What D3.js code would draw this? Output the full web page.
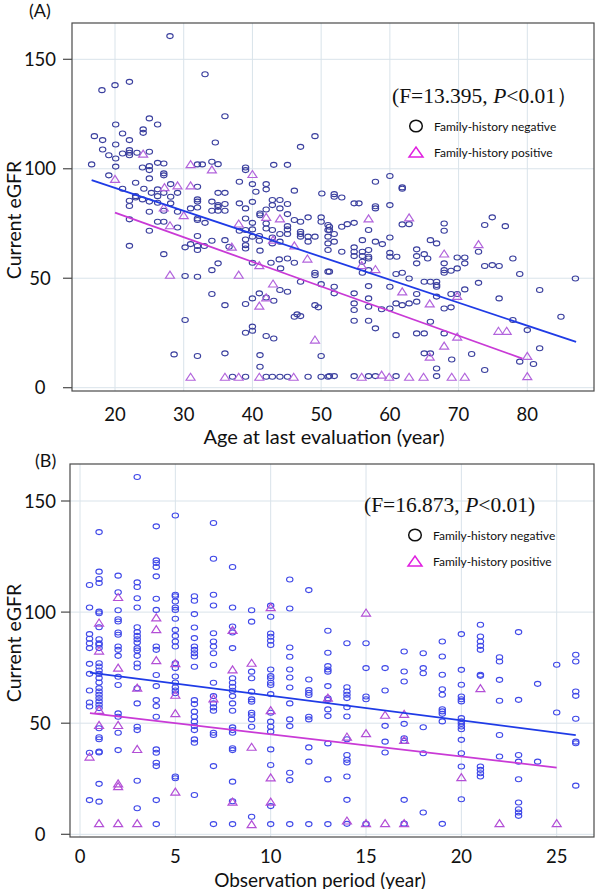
<!DOCTYPE html>
<html><head><meta charset="utf-8">
<script src="https://cdn.jsdelivr.net/npm/d3@7"></script>
<style>body{margin:0;background:#fff}svg{display:block}</style>
</head><body>
<svg id="c" width="596" height="889"></svg>
<script>
// ---------- DATA: panel A (age at last evaluation vs current eGFR) ----------
const ageTicks = [20, 30, 40, 50, 60, 70, 80];
const egfrTicks = [0, 50, 100, 150];
const ageNeg = [
[28,160.6],[33.1,143.2],[18.1,135.9],[20,138.2],[22.1,139.7],
[36,124],[25,123],[26.2,120.2],[20.1,120.2],[21.1,116.1],[24.1,118],[24.1,116.4],[17,114.9],[18.2,113.1],[22.1,113.1],[20.1,111.1],[34.6,112],[49.1,114.9],[47,110],[18.2,108.8],[19.1,106.2],[20.1,104.7],[21.1,107],[22.1,108.5],[22.1,107.3],[22.1,106.2],[23.2,107.3],[25,107.8],[16.6,102],[20.1,101],[24,100.6],[25,101.2],[26.2,102.7],[27.1,102.4],[32,102],[32.7,102],[34.1,103.2],[35,102.1],[39,100.6],[39,99.4],[43.1,101.8],[45.1,101.8],[25,99.4],[27.1,97.9],[27.1,97],[19.1,97],[25,95.6],[21.1,90.9],[23,93.6],[24.2,90.9],[26.2,90.6],[28.1,93],[32,91.8],[38.1,94.1],[40,93],[42,93],[42,90.6],[40.5,89.5],[46.1,90],[25.3,89],[27.1,89],[29.1,89],[23,87.5],[23,86.9],[22.1,85.4],[22.1,83],[24,86],[25,85],[26.2,87.5],[26.2,84.5],[28.1,87.2],[28.1,84.2],[32,86],[32,85],[34.1,85],[35,89],[36,89],[35,83.4],[35,82.6],[36,83.9],[38.1,84.2],[39,81.9],[40,84.9],[41.1,79.6],[41.1,78.8],[42,81.4],[42.9,85.7],[42.9,83.4],[44,85.7],[44,81.9],[45.1,83.9],[45.1,79.3],[25,80.4],[26.2,75.8],[27.1,80.8],[27.1,75.8],[29.1,80.4],[31,81.9],[32,82.3],[34.1,80.8],[35,80.8],[36,80.8],[22.1,76.9],[25,71.7],[29.1,73.2],[32,77.3],[32,76.6],[33.1,75.3],[39,77.3],[39,72],[40,75.3],[40,72.3],[42,75],[42,72.7],[42.9,72],[45.1,73.8],[45.1,72.3],[45.1,70.2],[46.1,76.6],[47,75.8],[47,71.2],[47,70.2],[48.1,77.8],[48.1,69],[48.1,66.7],[49.1,69],[50,77.8],[50,75.8],[50.1,88.7],[51,74.3],[51,72],[51,69],[51,65.9],[51,62.9],[47,69],[44,70.2],[44,66.7],[42.9,68.6],[42.9,65.9],[41,69.3],[41,67.1],[40,69],[39,67.7],[39,65.1],[39,63.6],[38.1,71.7],[36,67.4],[36.6,64.4],[34.1,67.1],[32,69.3],[32,64.7],[32,62.9],[33,64.7],[31,65.6],[30.2,64.1],[22.1,64.8],[27.1,61],[35,56.8],[34.1,53.7],[40,57.1],[41.1,62.6],[42.7,57.1],[43.9,58.6],[45.1,59],[46.1,57.1],[44.1,54.5],[49.1,52.5],[49.1,51.4],[51,53],[47,48.4],[50,47.3],[30.2,51],[32,50.7],[34.1,42.8],[36,37.7],[39,38.2],[40,40.8],[41,43.1],[42,41.2],[43.1,39.7],[44,44.6],[45.1,43.8],[49.1,37.7],[49.6,36.7],[46.1,32.4],[47,32.7],[46.5,33.5],[40,27.9],[40,26],[39,25.1],[42,23.6],[43.1,22.5],[30.2,30.9],[28.6,15.2],[32,14.5],[36,15.7],[41.1,14.9],[41.1,9.6],[50,14.5],
[37.1,5],[39,5],[42,5],[42.9,5],[44,5],[45.1,5],[48.1,5],[50,5],[51,5],
[57.9,94.1],[60,96.7],[61.8,91.5],[61.8,90.9],[51.9,88.4],[51.9,87.2],[53,86.9],[54.8,84.2],[55.5,84.2],[57.9,82.9],[57.9,81.9],[60,83.4],[51.2,73.5],[51.2,72],[53,73.5],[53.8,74.7],[54.8,75.3],[56.9,72],[51.9,70.2],[51.9,66.7],[56,67.4],[57.9,66.7],[58.9,65.6],[60,68.6],[61.8,74.6],[62.8,74.7],[65.9,67.4],[66.8,65.9],[67.9,75],[67.9,71.7],[73.8,74.3],[74.9,77.8],[76.8,73.8],[72.9,62.1],[53,62.1],[54.8,64.1],[54.8,62.1],[54.8,60.1],[56,62.1],[56,60.1],[56.9,62.9],[56.9,59.8],[56,57.5],[56.9,59],[56,52.5],[56.9,53.7],[60,61.6],[60,59.8],[61,59.8],[63.9,63.2],[63.9,60.1],[63.9,56.8],[65,61],[65.5,59],[67.9,56.8],[67.9,53.7],[67.9,52.5],[68.9,53.4],[69.8,54.5],[69.8,59.5],[70.9,59.5],[70.9,56.8],[73.8,55.6],[74.9,56],[75.9,55.6],[77.9,59],[78.9,51.9],[51.2,53],[51.9,46.1],[51.9,43.1],[54.8,43.1],[54.8,38.5],[54.8,35.5],[56.9,46.4],[56.9,40.8],[56.9,37],[58.8,35.8],[60,46.1],[60,36.2],[60.9,51.9],[61.8,52.5],[62.8,49.9],[60.9,38.5],[61.8,37.7],[62.8,38.5],[63.9,39.3],[63.9,42.8],[65,48.4],[65.9,48.4],[66.8,48.4],[66.8,46.1],[66.8,46.9],[66.8,41.6],[67.9,36.2],[68.9,36.7],[68.9,42.8],[69.8,42.8],[70.9,44.9],[72.9,47.9],[75.9,40.8],[81.8,44.6],[87,49.9],[84.9,32.4],[77.9,30.9],[80,26.3],[54.8,30.6],[56.9,30.6],[57.9,27.1],[60.9,24],[63.9,24.8],[65,24.8],[65.9,30.1],[67.9,24.8],[65,15.7],[65.9,15.7],[69,12.9],[71.9,15.4],[66.8,8.8],[73.8,8.1],[78.9,11.9],[80.9,10.8],[81.8,18],
[51.2,5.3],[51.9,5.3],[54.8,5.3],[56.9,5.3],[57.9,5.3],[60.9,5.3],[66.8,5.3]
];
const agePos = [
[24.1,106.9],[20,95.4],[31,102.1],[34.1,99.7],[40,97.6],[27.2,91.6],[29.1,92.4],[31,92.4],[27.1,82.3],[30,78.8],[28,74.2],[38,75],[42,78],[44,77.3],[37,64.4],[43,67.6],[46.1,65],[48,59],[41,56],[28,51.6],[38,51.6],[43,47.6],[42,41.3],[41,37.5],[49.1,22],[31,5],[36,5],[38,5],[41,5],[46,5],
[56.9,77.3],[62.8,77.8],[72.9,65.6],[67.9,61.3],[55.9,56],[57.9,54.2],[61.8,44],[65.8,38.5],[69.8,41.9],[69.8,23.3],[75.8,26],[77,26],[67.9,19.2],[65.8,14.2],[80,14.5],[80,5.3],[55.9,5],[58.8,6],[59.9,5],[62.8,5],[64.9,5],[69,5],[70.9,5]
];
const ageFitNeg = [[16.6,94.8],[87.1,20.9]];
const ageFitPos = [[20,80],[79.3,13.3]];

// ---------- DATA: panel B (observation period vs current eGFR) ----------
const obsTicks = [0, 5, 10, 15, 20, 25];
const obsNegByYear = [
[0.5,[112.2,102.1,90.1,88,86,83.8,76.7,72.2,64.7,59.3,57.5,36.7,15.4]],
[1,[136,118.2,114.9,113.1,100.2,99.5,93.2,87.8,86,85.3,83.8,77,75.5,73.7,72.2,70.3,68.3,65.8,64.3,62.8,61.3,59.8,58.3,56.8,47.7,43.7,42.8,37.2,36.8,22.7,14.7]],
[2,[116.4,108.9,100.8,96.8,95.8,90.8,89.8,84.5,83,80.3,70.9,67.2,54.4,52.9,45.7,37.9]],
[3,[160.8,113.4,111.3,106.2,102.1,93.2,91,89.3,87.8,86.3,83.8,82.7,80.3,76.9,75.1,65.7,58.9,48.4,46.9,24.1,11.7]],
[4,[138.6,123.3,122.1,120.3,116.1,106,101,84.5,83,71.7,66.7,60.4,57.7,52.9,38.2,36.7,32.2,30.7,15.4,4.6]],
[5,[143.5,107.8,107.1,104.8,102.1,101,97,92,89.3,86.8,84.5,77,74.8,71,68.3,66.2,64.7,63.5,26,25.2]],
[6,[107.1,105.1,99.1,93.1,88.3,84.5,83,81.5,80,75.4,60.4,58.6,55.2,52.9,50.7,48.7,46.9,42.7,41.2,17.7]],
[7,[140.1,124,107.8,103,90.5,86.8,84.5,81.5,76.2,68.2,62.2,58.9,57.1,55.6,45.7,44.7,30.7,4.6]],
[8,[120.3,102.1,93.5,90.8,83.8,70.2,68.2,66.4,64.6,62.2,58.9,55.6,48.1,46.9,45.7,38.7,37.9,23.7,14.9,4.6]],
[9,[100.8,95.7,73.2,70.2,64.2,60.7,59.7,54.7,53.7,51.7,48.4,7.9]],
[10,[102.9,97.9,90.4,88.9,87.1,85.2,74.2,71.2,70.2,68.2,67.2,63.1,54.7,50.7,48.4,46.2,38.2,31.2,12.7,4.6]],
[11,[114.7,101.6,84.1,79.9,74.2,70.6,66.1,58.9,51.7,48.7,27.7,24.4,4.6]],
[12,[109.9,69.7,64.9,63.7,62.7,52.9,51.7,39.1,32.7,4.6]],
[13,[91.6,81.7,75.7,74.2,73.2,66.7,61.2,60.5,56.2,53.2,40.9,24.7,4.6]],
[14,[86,66.2,64.3,62.8,61.3,57.2,53,42.8,35.7,33.5,32.3,26,15.5,4.7]],
[15,[86,74.8,62,60.8,4.7]],
[16,[74.8,64.7,48.8,41.7,36.8]],
[17,[82.3,73.3,68.8,49.7,43.2,42,15.5,4.8]],
[18,[81.5,74.8,72.5,48.2,36.5,9.8]],
[19,[86.8,80,71.8,65.3,62.8,56.3,55.3,54.2,50.8,4.7]],
[20,[90.1,74,67.3,62,60.8,59.8,52.3,50.8,49.7,48.5,47.3,42.5,36.5,30.5,15.8]],
[21,[94.3,89,86.8,84.8,83,71.8,71.3,30.5,29,27.5,26]],
[22,[79.7,77.8,69.5,60.1,44.7,35]],
[23,[91,60.5,35.7,32.7,24.8,14.3,11.3,9.8,8.3]],
[24,[67.7,32.7]],
[25,[76.3,54.8]],
[26,[80.8,77.8,64.3,62.3,52,41.7,41,21.9]]
];
const obsPosByYear = [
[0.5,[35]],
[1,[95.3,82.7,56,49.2,5]],
[2,[106.8,75,49.2,22.9,21.7,5]],
[3,[66,38.4,5]],
[4,[97.6,92.3,78.4]],
[5,[77,62.8,54.5,19.2]],
[7,[61.2]],
[8,[92,74.2,14.7]],
[9,[77.2,39.4,4.6]],
[10,[102.2,55.9,25.6,14.7]],
[13,[61.5]],
[14,[44,6.2]],
[15,[99.8,45.5,5]],
[16,[53.8,5]],
[17,[54.2,42.5,5]],
[20,[25.7]],
[21,[65.8]],
[22,[5]],
[25,[5]]
];
const obsFitNeg = [[0.52,72.8],[26,44.6]];
const obsFitPos = [[0.52,54.5],[25,30]];

const legendLabels = ["Family-history negative", "Family-history positive"];

// ---------- DRAW ----------
const svg = d3.select("#c");
const flat = g => g.flatMap(([t, vs]) => vs.map(v => [t, v]));
const sans = "Lato, 'Open Sans', sans-serif";

function panel(cfg) {
  const g = svg.append("g");
  const x = d3.scaleLinear().domain(cfg.xd).range(cfg.xr);
  const y = d3.scaleLinear().domain([0, 150]).range(cfg.yr);
  const f = cfg.frame;
  // grid
  g.selectAll(".gx").data(cfg.xticks).join("line")
    .attr("x1", d => x(d)).attr("x2", d => x(d)).attr("y1", f.t).attr("y2", f.b)
    .attr("stroke", "#d9e3ea").attr("stroke-width", 1);
  g.selectAll(".gy").data(egfrTicks).join("line")
    .attr("x1", f.l).attr("x2", f.r).attr("y1", d => y(d)).attr("y2", d => y(d))
    .attr("stroke", "#d9e3ea").attr("stroke-width", 1);
  // frame
  g.append("rect").attr("x", f.l).attr("y", f.t).attr("width", f.r - f.l).attr("height", f.b - f.t)
    .attr("fill", "none").attr("stroke", "#4a4a4a").attr("stroke-width", 1.2);
  // y ticks
  g.selectAll(".ty").data(egfrTicks).join("line")
    .attr("x1", f.l - 9).attr("x2", f.l).attr("y1", d => y(d)).attr("y2", d => y(d))
    .attr("stroke", "#4a4a4a").attr("stroke-width", 1.2);
  g.selectAll(".ly").data(egfrTicks).join("text")
    .attr("x", cfg.ylabX).attr("y", d => y(d) + 6.5).attr("text-anchor", "middle")
    .attr("font-family", sans).attr("font-size", 18.5).attr("fill", "#111").text(d => d);
  g.selectAll(".lx").data(cfg.xticks).join("text")
    .attr("x", d => x(d)).attr("y", cfg.xlabY).attr("text-anchor", "middle")
    .attr("font-family", sans).attr("font-size", 18.5).attr("fill", "#111").text(d => d);
  // axis titles
  g.append("text").attr("x", cfg.xtitle[0]).attr("y", cfg.xtitle[1]).attr("text-anchor", "middle")
    .attr("font-family", sans).attr("font-size", cfg.xtitle[2]).attr("fill", "#111").text(cfg.xtitleText);
  g.append("text").attr("transform", `translate(${cfg.ytitle[0]},${cfg.ytitle[1]}) rotate(-90)`)
    .attr("text-anchor", "middle").attr("font-family", sans).attr("font-size", 19.5).attr("fill", "#111")
    .text("Current eGFR");
  g.append("text").attr("x", cfg.tag[0]).attr("y", cfg.tag[1]).attr("font-family", sans)
    .attr("font-size", 18).attr("fill", "#111").text(cfg.tagText);
  // markers
  g.selectAll(".neg").data(cfg.neg).join("ellipse")
    .attr("cx", d => x(d[0])).attr("cy", d => y(d[1])).attr("rx", 3.2).attr("ry", 2.5)
    .attr("fill", "none").attr("stroke", cfg.negColor).attr("stroke-width", 1.1);
  const tri = (cx, cy, w, h) => `M${cx - w / 2},${cy + h / 2}L${cx + w / 2},${cy + h / 2}L${cx},${cy - h / 2}Z`;
  g.selectAll(".pos").data(cfg.pos).join("path")
    .attr("d", d => tri(x(d[0]), y(d[1]), 9, 7))
    .attr("fill", "none").attr("stroke", cfg.posColor).attr("stroke-width", 1.2);
  // fits
  const line = d3.line().x(d => x(d[0])).y(d => y(d[1]));
  g.append("path").attr("d", line(cfg.fitNeg)).attr("stroke", "#1f3be6").attr("stroke-width", 1.8).attr("fill", "none");
  g.append("path").attr("d", line(cfg.fitPos)).attr("stroke", "#c93ad6").attr("stroke-width", 1.8).attr("fill", "none");
  // annotation
  const a = g.append("text").attr("x", cfg.ann[0]).attr("y", cfg.ann[1])
    .attr("font-family", "'Liberation Serif', 'Times New Roman', serif").attr("font-size", 21.5).attr("fill", "#111");
  a.append("tspan").text(cfg.annText[0]);
  a.append("tspan").attr("font-style", "italic").text("P");
  a.append("tspan").text(cfg.annText[1]);
  a.append("tspan").text(cfg.annText[2]);
  // legend
  const L = cfg.leg;
  g.append("ellipse").attr("cx", L[0]).attr("cy", L[1]).attr("rx", 6.3).attr("ry", 5.8)
    .attr("fill", "none").attr("stroke", "#111").attr("stroke-width", 1.5);
  g.append("path").attr("d", tri(L[0], L[2], 14, 10)).attr("fill", "none").attr("stroke", "#e020e0").attr("stroke-width", 1.5);
  g.append("text").attr("x", L[0] + 18).attr("y", L[1] + 4.5).attr("font-family", sans).attr("font-size", 12)
    .attr("fill", "#111").text(legendLabels[0]);
  g.append("text").attr("x", L[0] + 18).attr("y", L[2] + 4.5).attr("font-family", sans).attr("font-size", 12)
    .attr("fill", "#111").text(legendLabels[1]);
}

panel({
  frame: {l: 72, t: 23, r: 594, b: 391},
  xd: [20, 80], xr: [115, 527.3], yr: [387.7, 59.3],
  xticks: ageTicks, ylabX: 40, xlabY: 421,
  xtitle: [324, 444, 20], xtitleText: "Age at last evaluation (year)",
  ytitle: [21, 220], tag: [29, 17], tagText: "(A)",
  neg: ageNeg, pos: agePos, negColor: "#3a3f9e", posColor: "#b264dc",
  fitNeg: ageFitNeg, fitPos: ageFitPos,
  ann: [392, 103], annText: ["(F=13.395, ", "<0.01", "）"],
  leg: [416, 126, 152]
});
panel({
  frame: {l: 70, t: 464, r: 594, b: 837},
  xd: [0, 25], xr: [80, 556.7], yr: [834.3, 501],
  xticks: obsTicks, ylabX: 40, xlabY: 862.5,
  xtitle: [320, 886.5, 19], xtitleText: "Observation period (year)",
  ytitle: [21, 643], tag: [35, 467], tagText: "(B)",
  neg: flat(obsNegByYear), pos: flat(obsPosByYear), negColor: "#3f48e8", posColor: "#b34fd6",
  fitNeg: obsFitNeg, fitPos: obsFitPos,
  ann: [364, 512], annText: ["(F=16.873, ", "<0.01", ")"],
  leg: [415, 535, 561]
});
</script>
</body></html>
